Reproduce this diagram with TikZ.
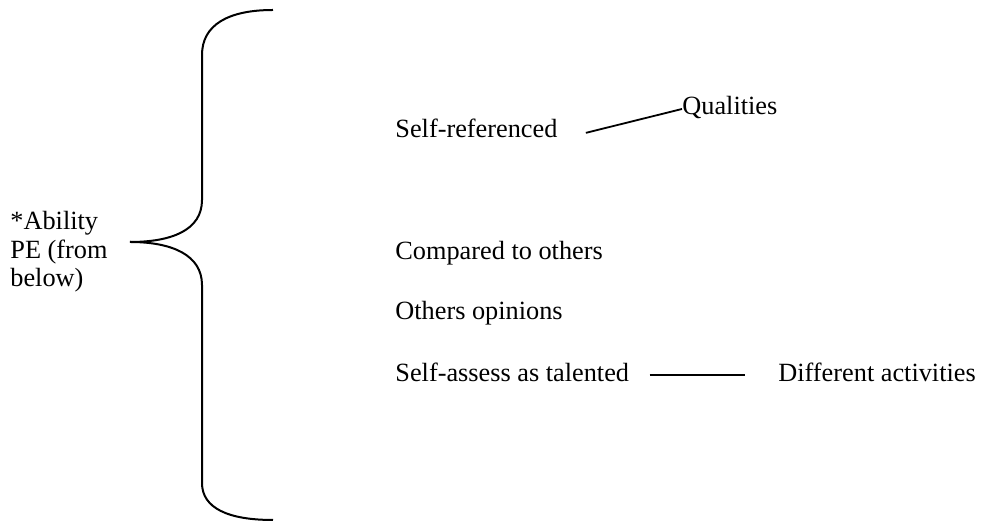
\documentclass[tikz,border=0pt]{standalone}
\usepackage{fontspec}
\setmainfont{Liberation Serif}
\begin{document}
\begin{tikzpicture}[x=0.5pt,y=-0.5pt,item/.style={anchor=base west,inner sep=0,font=\fontsize{13.15}{14.4}\selectfont},itemL/.style={item,align=left},brace/.style={line width=1pt},link/.style={line width=0.9pt}]
\def\xa{395};
\def\xb{778};

\useasboundingbox (0,0) rectangle (982,522);

\node[itemL] (AB) at (10,287) {*Ability\\PE (from\\below)};

\draw[brace] (273,10) .. controls (228,10) and (202,25) .. (202,55) -- (202,200) .. controls (202,230) and (172,242) .. (130,242);
\draw[brace] (130,242) .. controls (172,242) and (202,255) .. (202,285) -- (202,483) .. controls (202,508) and (228,520) .. (273,520);

\node[item] (SR) at (\xa,138) {Self-referenced};
\node[item] (Q) at (682,115) {Qualities};
\draw[link] ([xshift=14pt,yshift=-2pt]SR.east) -- ([yshift=3pt]Q.base west);

\node[item] (CO) at (\xa,260) {Compared to others};
\node[item] (OO) at (\xa,320) {Others opinions};

\node[item] (SA) at (\xa,382) {Self-assess as talented};
\node[item] (DA) at (\xb,382) {Different activities};
\draw[link,shorten <=10pt,shorten >=16.5pt] ([yshift=-1pt]SA.east) -- ([yshift=-1pt]DA.west);
\end{tikzpicture}
\end{document}
